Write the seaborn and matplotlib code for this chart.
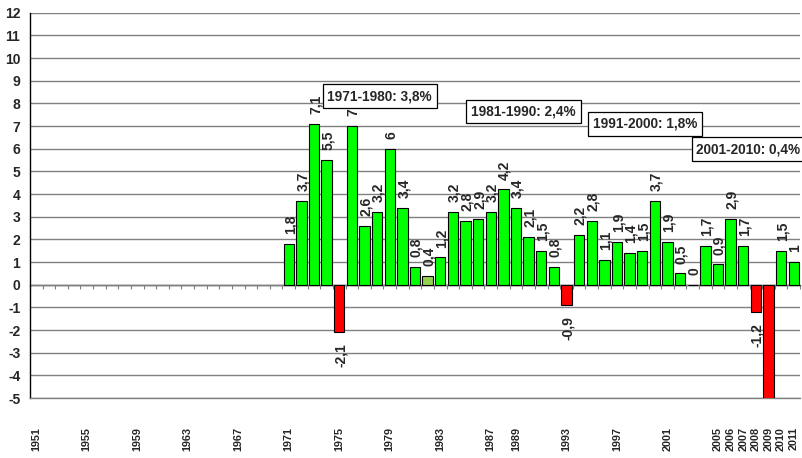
import numpy as np
import pandas as pd
import matplotlib
matplotlib.use("Agg")
import matplotlib.pyplot as plt
import seaborn as sns

# ---- data ----
all_years = list(range(1951, 2012))
years = list(range(1971, 2012))
growth = [1.8, 3.7, 7.1, 5.5, -2.1, 7.0, 2.6, 3.2, 6.0, 3.4,
          0.8, 0.4, 1.2, 3.2, 2.8, 2.9, 3.2, 4.2, 3.4, 2.1,
          1.5, 0.8, -0.9, 2.2, 2.8, 1.1, 1.9, 1.4, 1.5, 3.7,
          1.9, 0.5, 0.0, 1.7, 0.9, 2.9, 1.7, -1.2, -7.8, 1.5, 1.0]
highlight_years = [1982]
tick_years = [1951, 1955, 1959, 1963, 1967, 1971, 1975, 1979, 1983, 1987,
              1989, 1993, 1997, 2001, 2005, 2006, 2007, 2008, 2009, 2010, 2011]
decade_labels = ["1971-1980: 3,8%", "1981-1990: 2,4%", "1991-2000: 1,8%", "2001-2010: 0,4%"]

kinds = []
for y, v in zip(years, growth):
    if y in highlight_years:
        kinds.append("low")
    elif v < 0:
        kinds.append("neg")
    else:
        kinds.append("pos")

df = pd.DataFrame({"year": [str(y) for y in years], "growth": growth, "kind": kinds})
order = [str(y) for y in all_years]
palette = {"pos": "#00FF00", "neg": "#FF0000", "low": "#92D050"}

sns.set_style("white")
plt.rcParams["font.family"] = ["Liberation Sans", "DejaVu Sans"]
plt.rcParams["axes.unicode_minus"] = False

fig = plt.figure(figsize=(8.02, 4.58), dpi=100)
ax = fig.add_axes([30 / 802, 1 - 398 / 458, 770 / 802, (398 - 12.7) / 458])

sns.barplot(data=df, x="year", y="growth", hue="kind", order=order, palette=palette,
            dodge=False, width=0.82, edgecolor="black", linewidth=0.8,
            saturation=1, legend=False, ax=ax, zorder=3)

ax.set_xlim(-0.5, len(all_years) - 0.5)
ax.set_ylim(-5, 12)

# grid
ax.set_yticks(np.arange(-5, 13, 1))
ax.set_yticks(np.arange(-4.5, 12, 1), minor=True)
ax.yaxis.grid(True, color="#808080", linewidth=1.0, zorder=0)
ax.set_axisbelow(True)
ax.tick_params(axis="y", which="both", direction="in", length=3, width=0.8,
               color="#808080", labelsize=10, pad=7)
ax.tick_params(axis="y", which="major", length=0)
for lab in ax.get_yticklabels():
    lab.set_fontweight("bold")

for s in ["top", "right"]:
    ax.spines[s].set_visible(False)
ax.spines["left"].set_color("black")
ax.spines["left"].set_linewidth(1.0)
ax.spines["bottom"].set_color("#808080")
ax.spines["bottom"].set_linewidth(1.0)

# x tick labels at bottom
pos = [all_years.index(y) for y in tick_years]
ax.set_xticks(pos)
ax.set_xticklabels([str(y) for y in tick_years], rotation=90, fontsize=7.8,
                   fontweight="bold")
ax.tick_params(axis="x", length=0, pad=21)
ax.set_xlabel("")
ax.set_ylabel("")

# category ticks along zero line
sec = ax.secondary_xaxis(5 / 17)
sec.set_xticks(np.arange(-0.5, len(all_years), 1))
sec.tick_params(axis="x", direction="out", length=3, width=0.8, color="#808080",
                labelbottom=False, labeltop=False)
sec.spines["bottom"].set_color("#404040")
sec.spines["bottom"].set_linewidth(1.0)

# value labels
for y, v in zip(years, growth):
    txt = f"{v:g}".replace(".", ",")
    xi = all_years.index(y)
    if v >= 0:
        ax.annotate(txt, (xi, v), xytext=(1, 7), textcoords="offset points",
                    rotation=90, ha="center", va="bottom", fontsize=10,
                    fontweight="bold", zorder=4)
    else:
        ax.annotate(txt, (xi, v), xytext=(1, -8), textcoords="offset points",
                    rotation=90, ha="center", va="top", fontsize=10,
                    fontweight="bold", zorder=4)

# decade boxes
box_pos = [(27.2, 8.32, "center"), (38.6, 7.64, "center"), (48.2, 7.1, "center"),
           (52.3, 5.98, "left")]
for (bx, by, ha), lab in zip(box_pos, decade_labels):
    ax.text(bx, by, lab, ha=ha, va="center", fontsize=9.8, fontweight="bold",
            zorder=6, clip_on=False,
            bbox=dict(boxstyle="square,pad=0.35", facecolor="white",
                      edgecolor="black", linewidth=0.9))

fig.savefig("out.png", dpi=100)
